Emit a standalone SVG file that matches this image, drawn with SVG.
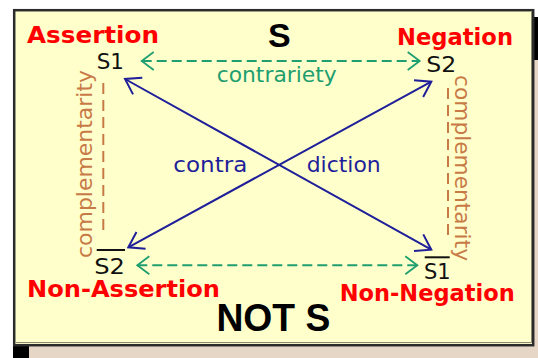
<svg xmlns="http://www.w3.org/2000/svg" width="538" height="358" viewBox="0 0 538 358">
<style>
.lbl{font-family:"DejaVu Sans",Verdana,sans-serif;font-weight:bold;font-size:23px;fill:#ff0000}
.big{font-family:"Liberation Sans",Arial,sans-serif;font-weight:bold;fill:#000}
.nd{font-family:"DejaVu Sans",Verdana,sans-serif;font-size:21px;fill:#111}
.t{font-family:"DejaVu Sans",Verdana,sans-serif;font-size:22px}
.g{fill:#1f9e6f}.b{fill:#1f1f9a}.o{fill:#c87a46}
.gl{stroke:#1f9e6f;stroke-width:2;stroke-dasharray:10 5;fill:none}
.ol{stroke:#c87a46;stroke-width:2;stroke-dasharray:11 6;fill:none}
.bl{stroke:#1f1f9a;stroke-width:2;fill:none}
</style>
<defs>
<marker id="ag" markerUnits="userSpaceOnUse" markerWidth="18" markerHeight="22" viewBox="-16 -11 18 22" refX="0" refY="0" orient="auto-start-reverse">
<path d="M-12,-9 L0,0 L-12,9" fill="none" stroke="#1f9e6f" stroke-width="1.8" stroke-dasharray="none"/>
</marker>
<marker id="ab" markerUnits="userSpaceOnUse" markerWidth="20" markerHeight="24" viewBox="-18 -12 20 24" refX="0" refY="0" orient="auto-start-reverse">
<path d="M-14.5,-9.5 L0,0 L-14.5,9.5" fill="none" stroke="#1f1f9a" stroke-width="2"/>
</marker>
</defs>
<rect width="538" height="358" fill="#ffffff"/>
<rect x="29" y="345" width="509" height="13" fill="#e6d6c6"/>
<rect x="534" y="60" width="4" height="298" fill="#e6d6c6"/>
<rect x="13" y="344" width="16" height="14" fill="#000"/>
<rect x="533" y="17" width="5" height="43" fill="#000"/>
<rect x="14.2" y="10.2" width="519" height="335" fill="#ffffcc" stroke="#2b2b2b" stroke-width="2.5"/>
<path d="M16,342.5 H531.5 V12" fill="none" stroke="#8a8a70" stroke-width="1"/>
<g id="titles">
<text class="big" x="279.4" y="46.5" font-size="34" text-anchor="middle">S</text>
<text class="big" x="273.4" y="331" font-size="38" text-anchor="middle" textLength="114" lengthAdjust="spacingAndGlyphs">NOT S</text>
</g>
<g id="connectors">
<line class="gl" x1="141.7" y1="61" x2="419.7" y2="61" marker-start="url(#ag)" marker-end="url(#ag)"/>
<line class="gl" x1="137.3" y1="265.3" x2="417.3" y2="265.3" marker-start="url(#ag)" marker-end="url(#ag)"/>
<line class="ol" x1="103.3" y1="83" x2="103.3" y2="234"/>
<line class="ol" x1="448" y1="88" x2="448" y2="239"/>
<line class="bl" x1="125" y1="79" x2="431.3" y2="249.7" marker-start="url(#ab)" marker-end="url(#ab)"/>
<line class="bl" x1="128.3" y1="247.3" x2="431.3" y2="81.7" marker-start="url(#ab)" marker-end="url(#ab)"/>
<text class="t g" x="216.7" y="81.7" textLength="120" lengthAdjust="spacingAndGlyphs">contrariety</text>
<text class="t b" x="173.3" y="171.7" textLength="74" lengthAdjust="spacingAndGlyphs">contra</text>
<text class="t b" x="306.7" y="171.7" textLength="74" lengthAdjust="spacingAndGlyphs">diction</text>
<text class="t o" transform="translate(92,258) rotate(-90)" x="0" y="0" textLength="188" lengthAdjust="spacingAndGlyphs">complementarity</text>
<text class="t o" transform="translate(455,75) rotate(90)" x="0" y="0" textLength="186" lengthAdjust="spacingAndGlyphs">complementarity</text>
</g>
<g id="node-assertion">
<text class="lbl" x="27" y="42.5" textLength="132" lengthAdjust="spacingAndGlyphs">Assertion</text>
<text class="nd" x="96.7" y="69.3" textLength="27.3" lengthAdjust="spacingAndGlyphs">S1</text>
</g>
<g id="node-negation">
<text class="lbl" x="397" y="44.8" textLength="116" lengthAdjust="spacingAndGlyphs">Negation</text>
<text class="nd" x="426.3" y="71.7" textLength="30" lengthAdjust="spacingAndGlyphs">S2</text>
</g>
<g id="node-non-assertion">
<line x1="96.7" y1="250" x2="125" y2="250" stroke="#111" stroke-width="2"/>
<text class="nd" x="94.3" y="274.3" textLength="30.7" lengthAdjust="spacingAndGlyphs">S2</text>
<text class="lbl" x="27" y="297.3" textLength="193" lengthAdjust="spacingAndGlyphs">Non-Assertion</text>
</g>
<g id="node-non-negation">
<line x1="424.7" y1="257.3" x2="449.7" y2="257.3" stroke="#111" stroke-width="2"/>
<text class="nd" x="424" y="279.3" textLength="26.7" lengthAdjust="spacingAndGlyphs">S1</text>
<text class="lbl" x="339.7" y="300.5" textLength="175" lengthAdjust="spacingAndGlyphs">Non-Negation</text>
</g>
</svg>
